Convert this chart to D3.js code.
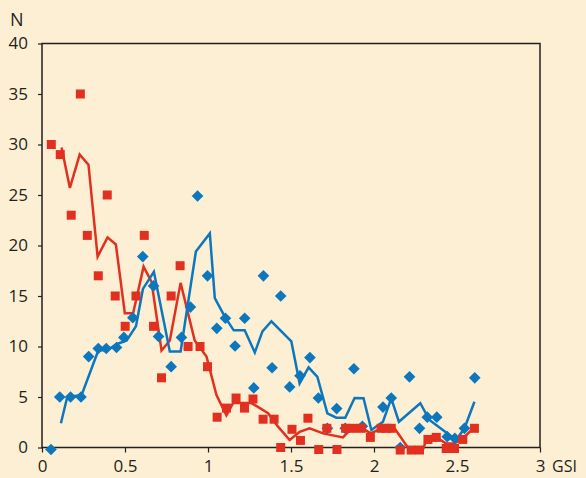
<!DOCTYPE html>
<html><head><meta charset="utf-8">
<script src="https://cdn.jsdelivr.net/npm/d3@7"></script>
<style>
html,body{margin:0;padding:0;background:#fdefd3;}
svg{display:block;}
text{font-family:"Open Sans",sans-serif;fill:#231f20;}
</style></head>
<body>
<script>
const xTicks = [0, 0.5, 1, 1.5, 2, 2.5, 3];
const yTicks = [0, 5, 10, 15, 20, 25, 30, 35, 40];

const blueX = [0.054,0.107,0.172,0.235,0.281,0.339,0.387,0.449,0.493,0.547,0.607,0.672,0.702,0.778,0.84,0.894,0.937,0.997,1.053,1.105,1.163,1.221,1.276,1.334,1.386,1.438,1.492,1.554,1.614,1.665,1.719,1.775,1.827,1.879,1.93,2.054,2.104,2.158,2.214,2.274,2.321,2.378,2.441,2.487,2.545,2.607];
const blueY = [-0.2,5,5,5,9,9.8,9.8,9.9,10.9,12.85,18.9,16,11,8,10.9,13.9,24.9,17,11.8,12.8,10.05,12.8,5.9,17,7.9,15,6,7.1,8.9,4.9,1.9,3.85,1.9,7.8,2.1,4.0,4.9,0,7.0,1.9,3.0,3.0,1.07,0.9,1.9,6.9];

const redX = [0.056,0.11,0.176,0.231,0.273,0.339,0.393,0.441,0.501,0.566,0.616,0.672,0.72,0.778,0.832,0.88,0.952,0.997,1.055,1.111,1.169,1.22,1.271,1.332,1.398,1.438,1.506,1.557,1.602,1.667,1.716,1.777,1.829,1.873,1.923,1.978,2.043,2.074,2.104,2.158,2.224,2.274,2.325,2.375,2.435,2.485,2.535,2.605];
const redY = [30,29,23,35,21,17,25,15,12,15,21,12,6.9,15,18,10,10,8,3,3.9,4.9,3.9,4.8,2.8,2.8,0,1.8,0.7,2.9,-0.2,1.9,-0.2,1.9,1.9,1.9,1.0,1.9,1.9,1.9,-0.25,-0.25,-0.25,0.8,1.0,-0.1,-0.1,0.8,1.9];

const redLineX = [0.118,0.168,0.227,0.28,0.335,0.395,0.445,0.499,0.549,0.612,0.66,0.72,0.77,0.835,0.92,0.991,1.051,1.111,1.151,1.262,1.362,1.422,1.492,1.552,1.612,1.693,1.813,1.853,1.95,1.98,2.02,2.124,2.214,2.294,2.315,2.385,2.435,2.485,2.535,2.585];
const redLineY = [29.7,25.7,29.0,28.0,18.9,20.8,20.1,13.3,13.3,17.9,16.4,9.6,10.6,16.3,10.6,9.0,5.2,3.2,4.4,4.4,3.4,2.06,0.74,1.56,1.9,1.4,1.0,1.7,1.7,1.4,1.7,1.9,-0.25,-0.25,0.74,0.9,0.4,0.4,0.9,1.7];

const blueLineX = [0.114,0.152,0.239,0.339,0.393,0.453,0.51,0.566,0.608,0.674,0.77,0.835,0.927,1.011,1.041,1.101,1.155,1.221,1.282,1.328,1.382,1.502,1.552,1.606,1.659,1.719,1.773,1.827,1.883,1.937,1.984,2.054,2.104,2.15,2.279,2.334,2.455,2.495,2.545,2.605];
const blueLineY = [2.4,5.0,5.2,9.6,9.65,10.25,10.6,12.0,15.7,17.4,9.5,9.5,19.4,21.2,14.8,12.95,11.6,11.6,9.4,11.5,12.5,10.5,6.35,7.94,7.0,3.39,2.95,2.95,4.9,4.87,1.73,2.55,4.87,2.55,4.38,2.72,1.24,0.74,1.9,4.53];

const W = 586, H = 478;
const BLUE = "#0d77bd", RED = "#e1301f";
const svg = d3.select("body").append("svg").attr("width", W).attr("height", H);
svg.append("rect").attr("width", W).attr("height", H).attr("fill", "#fdefd3");

const x = d3.scaleLinear().domain([0, 3]).range([42, 540]);
const y = d3.scaleLinear().domain([0, 40]).range([447.5, 43.5]);

// axes
const xAxis = svg.append("g").attr("transform", `translate(0,${y(0)})`)
  .call(d3.axisBottom(x).tickValues(xTicks).tickSize(5).tickPadding(7).tickFormat(d => d3.format("")(d)));
const yAxis = svg.append("g").attr("transform", `translate(${x(0)},0)`)
  .call(d3.axisLeft(y).tickValues(yTicks).tickSize(4).tickPadding(10));
[xAxis, yAxis].forEach(g => {
  g.select(".domain").remove();
  g.selectAll("line").attr("stroke", "#231f20").attr("stroke-width", 1.2);
  g.selectAll("text").style("font-family", "'Open Sans',sans-serif").style("font-size", "17px").attr("fill", "#231f20");
});
// frame
svg.append("rect").attr("x", x(0)).attr("y", y(40)).attr("width", x(3) - x(0)).attr("height", y(0) - y(40))
  .attr("fill", "none").attr("stroke", "#231f20").attr("stroke-width", 1.5);

svg.append("text").attr("x", 10).attr("y", 26).style("font-size", "18px").text("N");
svg.append("text").attr("x", 552).attr("y", 472).style("font-size", "16px").text("GSI");

const line = d3.line().x(d => x(d[0])).y(d => y(d[1]));
const redLine = redLineX.map((v, i) => [v, redLineY[i]]);
const blueLine = blueLineX.map((v, i) => [v, blueLineY[i]]);

svg.append("path").datum(redLine).attr("d", line).attr("fill", "none").attr("stroke", RED).attr("stroke-width", 2.5).attr("stroke-linejoin", "miter");
svg.append("path").datum(blueLine).attr("d", line).attr("fill", "none").attr("stroke", BLUE).attr("stroke-width", 2.5).attr("stroke-linejoin", "miter");

const blue = blueX.map((v, i) => [v, blueY[i]]);
const red = redX.map((v, i) => [v, redY[i]]);

svg.append("g").selectAll("path").data(blue).join("path")
  .attr("d", d3.symbol(d3.symbolSquare, 68)())
  .attr("transform", d => `translate(${x(d[0])},${y(d[1])}) rotate(45)`)
  .attr("fill", BLUE);

svg.append("g").selectAll("rect").data(red).join("rect")
  .attr("x", d => x(d[0]) - 4.5).attr("y", d => y(d[1]) - 4.5)
  .attr("width", 9).attr("height", 9).attr("fill", RED);
</script>
</body></html>
